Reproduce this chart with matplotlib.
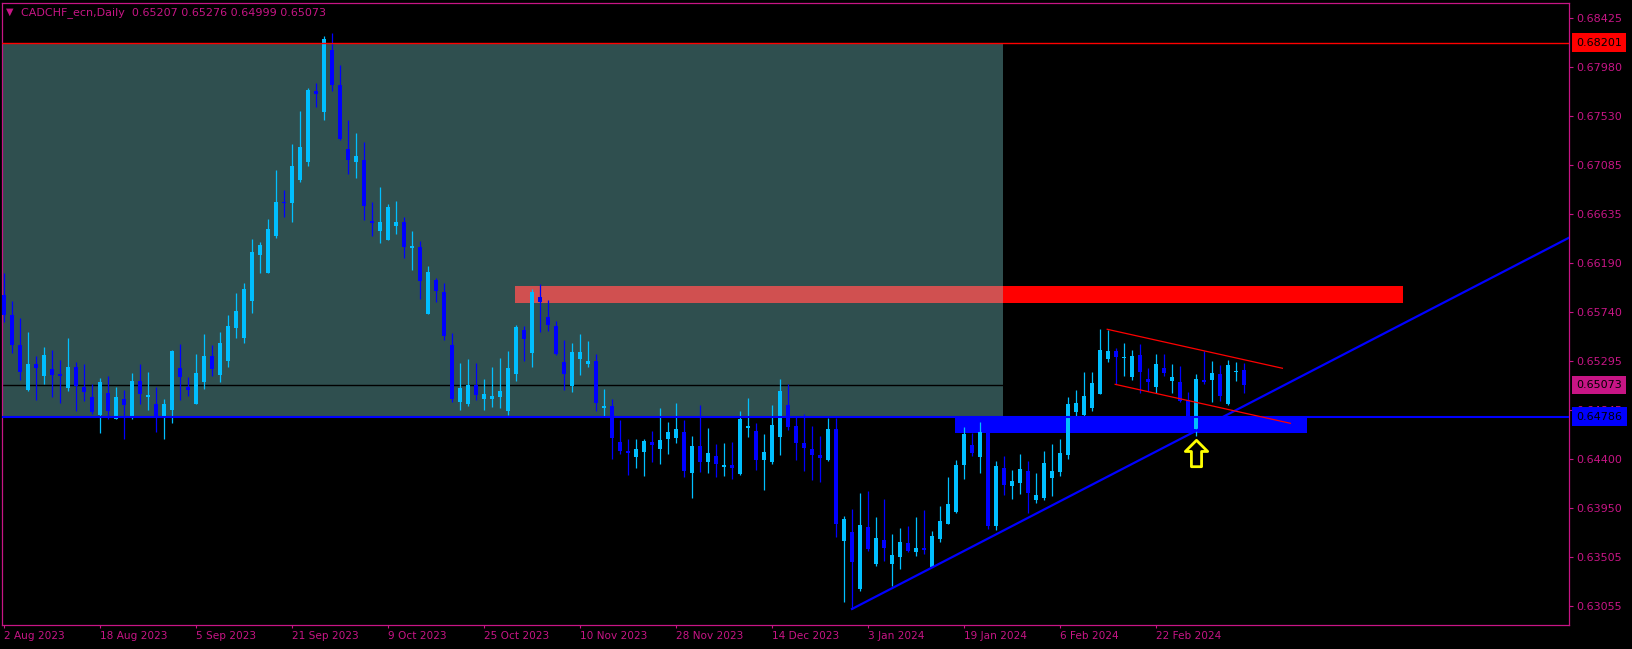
import numpy as np
import pandas as pd
import matplotlib
matplotlib.use('Agg')
import matplotlib.pyplot as plt
from matplotlib.patches import Rectangle
from matplotlib.path import Path

# daily bars, 2 Aug 2023 .. 8 Mar 2024 (no bar on 25 Dec / 1 Jan)
dates = pd.bdate_range('2023-08-02', '2024-03-08')
dates = dates.drop([pd.Timestamp('2023-12-25'), pd.Timestamp('2024-01-01')])

opens = [0.65896, 0.65713, 0.65439, 0.65028, 0.65266, 0.65156, 0.65220, 0.65175, 0.65047, 0.65238,
         0.65056, 0.64964, 0.64800, 0.65001, 0.64763, 0.64946, 0.64782, 0.65110, 0.64964, 0.64900,
         0.64782, 0.64846, 0.65229, 0.65056, 0.64900, 0.65101, 0.65339, 0.65165, 0.65293, 0.65595,
         0.65503, 0.65841, 0.66262, 0.66097, 0.66435, 0.66746, 0.66737, 0.66947, 0.67111, 0.67760,
         0.67568, 0.68134, 0.67815, 0.67230, 0.67111, 0.67130, 0.66572, 0.66481, 0.66399, 0.66527,
         0.66563, 0.66326, 0.66335, 0.65723, 0.66033, 0.65924, 0.65439, 0.64919, 0.64900, 0.65074,
         0.64946, 0.64946, 0.64964, 0.64836, 0.65175, 0.65576, 0.65366, 0.65878, 0.65695, 0.65613,
         0.65284, 0.65065, 0.65312, 0.65266, 0.65293, 0.64864, 0.64882, 0.64553, 0.64471, 0.64416,
         0.64462, 0.64553, 0.64489, 0.64581, 0.64590, 0.64645, 0.64270, 0.64517, 0.64371, 0.64425,
         0.64325, 0.64343, 0.64261, 0.64681, 0.64654, 0.64389, 0.64371, 0.64599, 0.64891, 0.64699,
         0.64544, 0.64489, 0.64434, 0.64389, 0.64672, 0.63649, 0.63731, 0.63210, 0.63777, 0.63439,
         0.63658, 0.63439, 0.63503, 0.63631, 0.63548, 0.63585, 0.63411, 0.63667, 0.63804, 0.63914,
         0.64343, 0.64526, 0.64416, 0.64635, 0.63786, 0.64316, 0.64151, 0.64179, 0.64288, 0.64023,
         0.64042, 0.64224, 0.64279, 0.64434, 0.64827, 0.64800, 0.64864, 0.64992, 0.65312, 0.65385,
         0.65321, 0.65147, 0.65348, 0.65129, 0.65056, 0.65229, 0.65110, 0.65101, 0.64937, 0.64672,
         0.65120, 0.65120, 0.65175, 0.64900, 0.65193, 0.65207]
highs = [0.66097, 0.65841, 0.65686, 0.65558, 0.65339, 0.65421, 0.65394, 0.65302, 0.65503, 0.65284,
         0.65266, 0.65083, 0.65138, 0.65156, 0.65056, 0.65028, 0.65184, 0.65266, 0.65193, 0.65056,
         0.64946, 0.65394, 0.65449, 0.65147, 0.65357, 0.65540, 0.65439, 0.65558, 0.65713, 0.65915,
         0.66006, 0.66408, 0.66380, 0.66591, 0.67038, 0.66855, 0.67276, 0.67577, 0.67787, 0.67833,
         0.68262, 0.68290, 0.67997, 0.67495, 0.67376, 0.67294, 0.66746, 0.66883, 0.66728, 0.66755,
         0.66609, 0.66481, 0.66390, 0.66161, 0.66052, 0.66006, 0.65549, 0.65275, 0.65312, 0.65275,
         0.65129, 0.65238, 0.65321, 0.65385, 0.65622, 0.65613, 0.65951, 0.65997, 0.65851, 0.65659,
         0.65485, 0.65458, 0.65540, 0.65476, 0.65357, 0.65037, 0.64946, 0.64754, 0.64581, 0.64581,
         0.64581, 0.64654, 0.64864, 0.64736, 0.64910, 0.64754, 0.64608, 0.64891, 0.64681, 0.64535,
         0.64544, 0.64553, 0.64836, 0.64955, 0.64727, 0.64626, 0.64891, 0.65129, 0.65083, 0.64782,
         0.64809, 0.64699, 0.64608, 0.64772, 0.64772, 0.63877, 0.63941, 0.64087, 0.64106, 0.63868,
         0.64032, 0.63713, 0.63768, 0.63786, 0.63868, 0.63932, 0.63740, 0.63968, 0.64233, 0.64389,
         0.64690, 0.64635, 0.64736, 0.64645, 0.64380, 0.64425, 0.64297, 0.64444, 0.64380, 0.64270,
         0.64471, 0.64535, 0.64581, 0.64964, 0.65028, 0.65193, 0.65193, 0.65586, 0.65576, 0.65412,
         0.65458, 0.65394, 0.65449, 0.65229, 0.65357, 0.65357, 0.65266, 0.65248, 0.65010, 0.65175,
         0.65385, 0.65293, 0.65257, 0.65302, 0.65284, 0.65276]
lows = [0.65650, 0.65366, 0.65120, 0.65019, 0.64937, 0.65083, 0.64964, 0.64910, 0.65019, 0.64836,
        0.64928, 0.64809, 0.64635, 0.64763, 0.64763, 0.64581, 0.64763, 0.64900, 0.64846, 0.64645,
        0.64581, 0.64727, 0.64937, 0.64974, 0.64900, 0.65037, 0.65156, 0.65101, 0.65238, 0.65503,
        0.65458, 0.65732, 0.66097, 0.66097, 0.66417, 0.66609, 0.66563, 0.66928, 0.67075, 0.67614,
        0.67495, 0.67760, 0.67312, 0.67002, 0.66965, 0.66581, 0.66435, 0.66371, 0.66399, 0.66453,
        0.66234, 0.66125, 0.65860, 0.65723, 0.65832, 0.65485, 0.64919, 0.64846, 0.64882, 0.64937,
        0.64846, 0.64873, 0.64864, 0.64800, 0.65110, 0.65293, 0.65238, 0.65558, 0.65567, 0.65348,
        0.65028, 0.65010, 0.65165, 0.65238, 0.64836, 0.64791, 0.64398, 0.64444, 0.64252, 0.64316,
        0.64243, 0.64371, 0.64352, 0.64444, 0.64544, 0.64233, 0.64042, 0.64279, 0.64270, 0.64233,
        0.64243, 0.64215, 0.64252, 0.64599, 0.64297, 0.64115, 0.64352, 0.64434, 0.64663, 0.64389,
        0.64288, 0.64206, 0.64188, 0.64380, 0.63685, 0.63091, 0.63028, 0.63192, 0.63557, 0.63420,
        0.63466, 0.63238, 0.63393, 0.63548, 0.63512, 0.63530, 0.63411, 0.63640, 0.63804, 0.63904,
        0.64215, 0.64425, 0.64270, 0.63758, 0.63749, 0.64069, 0.64032, 0.64078, 0.63904, 0.63996,
        0.64023, 0.64060, 0.64243, 0.64398, 0.64791, 0.64791, 0.64836, 0.64992, 0.65284, 0.65083,
        0.65156, 0.65120, 0.65001, 0.65019, 0.65001, 0.65156, 0.65001, 0.64919, 0.64718, 0.64608,
        0.65083, 0.64919, 0.64928, 0.64891, 0.65110, 0.64999]
closes = [0.65713, 0.65439, 0.65193, 0.65266, 0.65229, 0.65348, 0.65165, 0.65156, 0.65238, 0.65065,
          0.65010, 0.64827, 0.65101, 0.64836, 0.64964, 0.64891, 0.65110, 0.64992, 0.64983, 0.64772,
          0.64900, 0.65385, 0.65147, 0.65028, 0.65184, 0.65339, 0.65220, 0.65458, 0.65613, 0.65750,
          0.65951, 0.66289, 0.66353, 0.66499, 0.66746, 0.66737, 0.67075, 0.67248, 0.67769, 0.67732,
          0.68235, 0.67815, 0.67321, 0.67130, 0.67166, 0.66709, 0.66554, 0.66563, 0.66700, 0.66563,
          0.66335, 0.66344, 0.66024, 0.66106, 0.65933, 0.65522, 0.64946, 0.65047, 0.65074, 0.64983,
          0.64992, 0.64974, 0.65019, 0.65229, 0.65604, 0.65494, 0.65924, 0.65832, 0.65622, 0.65357,
          0.65175, 0.65375, 0.65375, 0.65293, 0.64910, 0.64882, 0.64590, 0.64471, 0.64453, 0.64489,
          0.64562, 0.64526, 0.64572, 0.64645, 0.64672, 0.64288, 0.64517, 0.64371, 0.64453, 0.64352,
          0.64343, 0.64316, 0.64763, 0.64699, 0.64389, 0.64462, 0.64709, 0.65019, 0.64690, 0.64544,
          0.64498, 0.64434, 0.64407, 0.64672, 0.63804, 0.63850, 0.63457, 0.63795, 0.63576, 0.63676,
          0.63585, 0.63521, 0.63640, 0.63557, 0.63585, 0.63567, 0.63694, 0.63831, 0.63987, 0.64343,
          0.64626, 0.64453, 0.64645, 0.63786, 0.64334, 0.64160, 0.64197, 0.64307, 0.64087, 0.64069,
          0.64361, 0.64288, 0.64453, 0.64900, 0.64910, 0.64974, 0.65092, 0.65394, 0.65385, 0.65330,
          0.65330, 0.65339, 0.65193, 0.65101, 0.65266, 0.65184, 0.65147, 0.64928, 0.64754, 0.65129,
          0.65101, 0.65184, 0.64974, 0.65257, 0.65202, 0.65073]

price_ticks = [0.68425, 0.67980, 0.67530, 0.67085, 0.66635, 0.66190, 0.65740,
               0.65295, 0.64845, 0.64400, 0.63950, 0.63505, 0.63055]
resist_level = 0.68201
support_level = 0.64786
bid = 0.65073
supply_zone = (0.65826, 0.65978)
demand_zone = (0.64635, 0.64770)
trend_pts = [(106, 0.63028), (150, 0.64693)]
channel_top = [(137.9, 0.65583), (159.8, 0.65227)]
channel_bot = [(138.9, 0.65080), (160.8, 0.64724)]
arrow_bar, arrow_price = 149, 0.64455

MAG = '#C71585'
BULL = '#00BFFF'
BEAR = '#0000FF'

o = np.array(opens)
h = np.array(highs)
l = np.array(lows)
c = np.array(closes)
x = np.arange(len(o))

fig = plt.figure(figsize=(16.33, 6.49), dpi=100, facecolor='black')
ax = fig.add_axes([2.5 / 1633, 24 / 649, 1566.5 / 1633, 622.5 / 649])
ax.set_facecolor('black')
ax.set_xlim(-0.1875, 195.625)
ax.set_ylim(0.628814, 0.685684)

# background objects
ax.add_patch(Rectangle((-5, support_level), 129.9, resist_level - support_level,
                       fc='#2F4F4F', ec='none', zorder=1))
ax.add_patch(Rectangle((63.9, supply_zone[0]), 124.9 - 63.9, supply_zone[1] - supply_zone[0],
                       fc='#D05050', ec='none', zorder=1.5))
ax.add_patch(Rectangle((124.9, supply_zone[0]), 174.9 - 124.9, supply_zone[1] - supply_zone[0],
                       fc='#FF0000', ec='none', zorder=1.5))
ax.add_patch(Rectangle((118.9, demand_zone[0]), 162.9 - 118.9, demand_zone[1] - demand_zone[0],
                       fc='#0000FF', ec='none', zorder=1.6))
ax.axhline(bid, color='black', lw=1, zorder=2)

# candles
col = np.where(c >= o, BULL, BEAR)
ax.vlines(x, l, h, colors=col, lw=0.9, zorder=3)
ax.bar(x, np.maximum(np.abs(c - o), 0.0001), bottom=np.minimum(o, c), width=0.62,
       color=col, lw=0, zorder=3.1)

# lines
ax.axhline(resist_level, color='#FF0000', lw=1, zorder=4)
ax.axhline(support_level, color='#0000FF', lw=1.5, zorder=4)
(x1, p1), (x2, p2) = trend_pts
tx = np.array([x1, 196])
ax.plot(tx, p1 + (p2 - p1) / (x2 - x1) * (tx - x1), color='#0000FF', lw=1.6, zorder=4)
for seg in (channel_top, channel_bot):
    ax.plot([seg[0][0], seg[1][0]], [seg[0][1], seg[1][1]], color='#FF0000', lw=0.9, zorder=4)

# up arrow
verts = [(0, 13), (11, 2), (5, 2), (5, -13), (-5, -13), (-5, 2), (-11, 2), (0, 13)]
arrow = Path(verts, [Path.MOVETO] + [Path.LINETO] * 6 + [Path.CLOSEPOLY])
ax.plot([arrow_bar], [arrow_price], marker=arrow, markersize=19, mfc='none',
        mec='#FFFF00', mew=2.0, zorder=5)

# axes styling
for s in ax.spines.values():
    s.set_color(MAG)
    s.set_linewidth(0.9)
ax.yaxis.tick_right()
ax.set_yticks(price_ticks)
ax.set_yticklabels([f'{p:.5f}' for p in price_ticks])
ax.tick_params(axis='y', direction='out', length=3, pad=2.5, colors=MAG, labelsize=8)
ax.set_xticks(x[::12])
ax.set_xticklabels([f'{d.day} {d:%b %Y}' for d in dates[::12]])
ax.tick_params(axis='x', direction='out', length=2.5, pad=1.5, colors=MAG, labelsize=7.6)
for lab in ax.get_xticklabels():
    lab.set_ha('left')

# price tags
for val, fc in [(resist_level, '#FF0000'), (bid, MAG), (support_level, '#0000FF')]:
    ax.annotate(f'{val:.5f}', xy=(1, val), xycoords=('axes fraction', 'data'),
                xytext=(5.3, 0), textcoords='offset points', ha='left', va='center',
                fontsize=8, color='black', annotation_clip=False, zorder=6,
                bbox=dict(boxstyle='square,pad=0.38', fc=fc, ec='none'))

# header
fig.text(6 / 1633, 1 - 12 / 649, '\u25BC', color=MAG, fontsize=7, va='center')
fig.text(21.5 / 1633, 1 - 13 / 649,
         f'CADCHF_ecn,Daily  {opens[-1]:.5f} {highs[-1]:.5f} {lows[-1]:.5f} {closes[-1]:.5f}',
         color=MAG, fontsize=8, va='center')

fig.savefig('out.png', dpi=100, facecolor='black')
